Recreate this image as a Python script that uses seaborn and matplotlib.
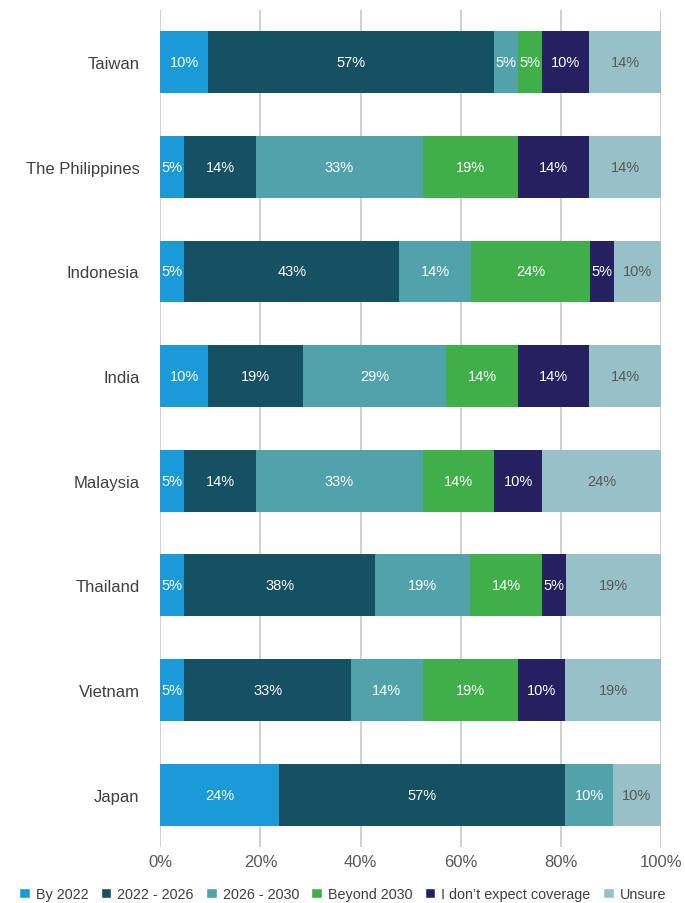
import matplotlib
matplotlib.use("Agg")
import matplotlib.pyplot as plt
import seaborn as sns
import pandas as pd
from matplotlib.patches import Patch

countries = ["Taiwan", "The Philippines", "Indonesia", "India",
             "Malaysia", "Thailand", "Vietnam", "Japan"]
categories = ["By 2022", "2022 - 2026", "2026 - 2030", "Beyond 2030",
              "I don\u2019t expect coverage", "Unsure"]

# share of respondents (%) per category, per country
by_2022     = [9.5, 4.8, 4.8, 9.5, 4.8, 4.8, 4.8, 23.8]
y2022_2026  = [57.1, 14.3, 42.9, 19.0, 14.3, 38.1, 33.3, 57.1]
y2026_2030  = [4.8, 33.3, 14.3, 28.6, 33.3, 19.0, 14.3, 9.5]
beyond_2030 = [4.8, 19.0, 23.8, 14.3, 14.3, 14.3, 19.0, 0.0]
no_coverage = [9.5, 14.3, 4.8, 14.3, 9.5, 4.8, 9.5, 0.0]
unsure      = [14.3, 14.3, 9.5, 14.3, 23.8, 19.0, 19.0, 9.5]

colors = ["#1A9BD7", "#165163", "#52A2AC", "#40AE49", "#252160", "#97C0C9"]
text_colors = ["white", "white", "white", "white", "white", "#595959"]

df = pd.DataFrame(dict(zip(categories,
                           [by_2022, y2022_2026, y2026_2030, beyond_2030, no_coverage, unsure])),
                  index=countries)
df.index.name = "country"
cum = df.cumsum(axis=1)

sns.set_style("white")
plt.rcParams["font.family"] = ["Liberation Sans", "DejaVu Sans"]

fig, ax = plt.subplots(figsize=(6.85, 9.04), dpi=100)
fig.subplots_adjust(left=0.234, right=0.965, top=0.988, bottom=0.062)

# draw cumulative totals from the last category back, so each layer covers the next
for cat, col in reversed(list(zip(categories, colors))):
    d = cum[cat].reset_index()
    sns.barplot(data=d, x=cat, y="country", orient="y", color=col,
                width=0.59, saturation=1, ax=ax, linewidth=0)

for i, country in enumerate(countries):
    left = 0
    for cat, tc in zip(categories, text_colors):
        v = df.loc[country, cat]
        if v > 0:
            ax.text(left + v / 2, i, f"{v:.0f}%", ha="center", va="center",
                    color=tc, fontsize=10.5)
        left += v

ax.set_xlim(0, 100)
ax.set_xticks(range(0, 101, 20))
ax.set_xticklabels([f"{t}%" for t in range(0, 101, 20)])
ax.xaxis.grid(True, color="#D0D0D0", linewidth=1.4)
ax.set_axisbelow(True)
ax.set_xlabel("")
ax.set_ylabel("")
sns.despine(ax=ax, left=True, bottom=True)
ax.tick_params(axis="x", length=0, labelsize=12, labelcolor="#595959", pad=5)
ax.tick_params(axis="y", length=0, labelsize=12, labelcolor="#404040", pad=15)

handles = [Patch(facecolor=c, label=l) for c, l in zip(colors, categories)]
fig.legend(handles=handles, loc="lower center", ncol=6, frameon=False,
           bbox_to_anchor=(0.5, -0.012), fontsize=10.4, handlelength=0.75,
           handleheight=0.75, handletextpad=0.4, columnspacing=0.85,
           labelcolor="#404040")

fig.savefig("out.png", dpi=100)
